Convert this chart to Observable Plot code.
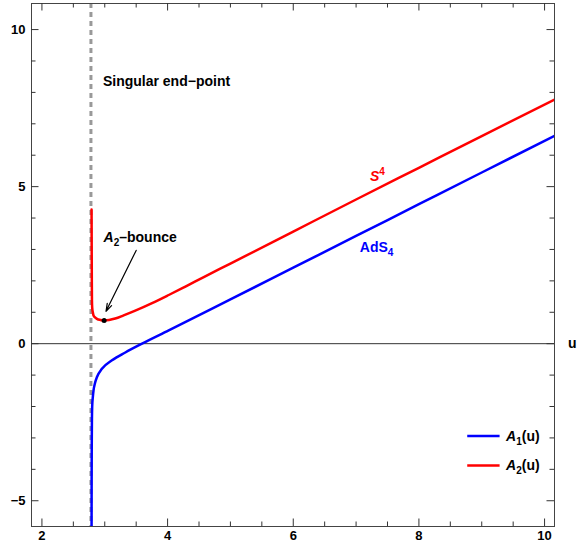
<!DOCTYPE html>
<html><head><meta charset="utf-8">
<script src="https://cdn.jsdelivr.net/npm/d3@7"></script>
<script src="https://cdn.jsdelivr.net/npm/@observablehq/plot@0.6"></script>
<style>body{margin:0;background:#fff}</style>
</head><body><div id="chart"></div>
<script>
// ---- data ----
const uA2 = [2.79, 2.792, 2.794, 2.796, 2.80, 2.81, 2.821, 2.85, 2.876, 2.93, 2.99, 3.07, 3.167, 3.3, 3.486, 3.753, 4.018, 4.284, 4.576, 5, 6, 7, 8, 9, 10.2];
const A2  = [4.27, 3.0, 2.0, 1.4, 1.15, 1.0, 0.9, 0.83, 0.79, 0.755, 0.74, 0.755, 0.80, 0.90, 1.05, 1.29, 1.55, 1.82, 2.12, 2.55, 3.57, 4.59, 5.6, 6.61, 7.81];
const uA1 = [2.79, 2.791, 2.793, 2.796, 2.80, 2.81, 2.821, 2.845, 2.876, 2.955, 3.115, 3.327, 3.593, 4.018, 5, 6, 7, 8, 9, 10.2];
const A1  = [-6.0, -4.5, -3.2, -2.4, -2.0, -1.7, -1.49, -1.25, -1.06, -0.80, -0.53, -0.28, 0, 0.42, 1.41, 2.42, 3.43, 4.44, 5.45, 6.66];
const singularU = [2.78];
const bounce = [{u: 2.99, a: 0.74}];
const xMajor = [2, 4, 6, 8, 10];
const xMinor = [2.5, 3, 3.5, 4.5, 5, 5.5, 6.5, 7, 7.5, 8.5, 9, 9.5];
const yMajor = [-5, 0, 5, 10];
const yMinor = [-4, -3, -2, -1, 1, 2, 3, 4, 6, 7, 8, 9];
const xDomain = [1.834, 10.158];
const yDomain = [-5.82, 10.83];
const series = [
  {key: "A1", name: "A1(u)", color: "#0000ff", u: uA1, v: A1},
  {key: "A2", name: "A2(u)", color: "#ff0000", u: uA2, v: A2}
];
// annotation anchors (data units)
const notes = [
  {u: 2.971, a: 8.36, t: "Singular end-point", c: "black"},
  {u: 2.98, a: 3.38, t: "A2-bounce", c: "black"},
  {u: 7.22, a: 5.31, t: "S4", c: "#ff0000"},
  {u: 7.06, a: 3.06, t: "AdS4", c: "#0000ff"}
];
const arrowNote = [{u1: 3.50, a1: 2.97, u2: 3.02, a2: 1.03}];
const legendRows = [
  {u1: 8.777, u2: 9.292, ut: 9.387, a: -2.94, t: "A1(u)", c: "#0000ff"},
  {u1: 8.777, u2: 9.292, ut: 9.387, a: -3.88, t: "A2(u)", c: "#ff0000"}
];
// rich-text rendering of labels: [text, style]
const rich = {
  "Singular end-point": [["Singular end\u2212point", ""]],
  "A2-bounce": [["A", "i"], ["2", "sub"], ["\u2013bounce", ""]],
  "S4": [["S", "i"], ["4", "sup"]],
  "AdS4": [["AdS", ""], ["4", "sub"]],
  "A1(u)": [["A", "i"], ["1", "sub"], ["(u)", ""]],
  "A2(u)": [["A", "i"], ["2", "sub"], ["(u)", ""]]
};

const W = 580, H = 548, mT = 3, mB = 22, mL = 31, mR = 26;
const innerH = H - mT - mB, innerW = W - mL - mR;
const MAJ = 7.5, MIN = 4.5;
const tickColor = "#333";

const lineData = series.flatMap(s => s.u.map((u, i) => ({u, v: s.v[i], key: s.key, color: s.color})));

const chart = Plot.plot({
  width: W, height: H,
  marginTop: mT, marginBottom: mB, marginLeft: mL, marginRight: mR,
  x: {domain: xDomain},
  y: {domain: yDomain},
  style: {fontFamily: "'Liberation Sans', Arial, sans-serif", fontSize: "13px", fontWeight: "bold", background: "white", overflow: "visible"},
  marks: [
    Plot.ruleY([0], {stroke: "#333", strokeWidth: 1}),
    Plot.ruleX(singularU, {x: d => d, stroke: "#999", strokeWidth: 3, strokeDasharray: "5,4"}),
    Plot.line(lineData, {x: "u", y: "v", z: "key", stroke: "color", strokeWidth: 2.5, curve: "monotone-x", clip: true}),
    Plot.arrow(arrowNote, {x1: "u1", y1: "a1", x2: "u2", y2: "a2", stroke: "black", strokeWidth: 1.2, headLength: 10, headAngle: 35}),
    Plot.dot(bounce, {x: "u", y: "a", r: 2.5, fill: "black"}),
    Plot.text(notes, {x: "u", y: "a", text: "t", fill: "c", textAnchor: "start", fontSize: 14, fontWeight: "bold"}),
    Plot.ruleY(legendRows, {x1: "u1", x2: "u2", y: "a", stroke: "c", strokeWidth: 2.5}),
    Plot.text(legendRows, {x: "ut", y: "a", text: "t", fill: "black", textAnchor: "start", fontSize: 14, fontWeight: "bold"}),
    Plot.frame({stroke: "#444", strokeWidth: 1}),
    // inward ticks: bottom / top
    Plot.tickX(xMajor, {x: d => d, insetTop: innerH - MAJ, stroke: tickColor}),
    Plot.tickX(xMinor, {x: d => d, insetTop: innerH - MIN, stroke: tickColor}),
    Plot.tickX(xMajor, {x: d => d, insetBottom: innerH - MAJ, stroke: tickColor}),
    Plot.tickX(xMinor, {x: d => d, insetBottom: innerH - MIN, stroke: tickColor}),
    // left / right
    Plot.tickY(yMajor, {y: d => d, insetRight: innerW - MAJ, stroke: tickColor}),
    Plot.tickY(yMinor, {y: d => d, insetRight: innerW - MIN, stroke: tickColor}),
    Plot.tickY(yMajor, {y: d => d, insetLeft: innerW - MAJ, stroke: tickColor}),
    Plot.tickY(yMinor, {y: d => d, insetLeft: innerW - MIN, stroke: tickColor}),
    Plot.axisX({ticks: xMajor, tickSize: 0, tickPadding: 4, label: null, fontSize: 13, fontWeight: "bold", fill: "black"}),
    Plot.axisY({ticks: yMajor, tickSize: 0, tickPadding: 6, label: null, fontSize: 13, fontWeight: "bold", fill: "black"}),
    Plot.text([{a: 0, t: "u"}], {y: "a", text: "t", frameAnchor: "right", dx: 22, fontSize: 14, fontWeight: "bold", fill: "black"})
  ]
});
document.getElementById("chart").appendChild(chart);

// apply italics / sub / superscripts
d3.select(chart).selectAll("text").each(function() {
  const parts = rich[this.textContent];
  if (!parts) return;
  const el = d3.select(this);
  el.text(null);
  let shift = 0;
  for (const [s, st] of parts) {
    const ts = el.append("tspan").text(s);
    let target = 0;
    if (st === "i") ts.attr("font-style", "italic");
    if (st === "sub") { ts.attr("font-size", 10); target = 4; }
    if (st === "sup") { ts.attr("font-size", 10); target = -6; }
    if (target !== shift) { ts.attr("dy", target - shift); shift = target; }
  }
});
</script>
</body></html>
